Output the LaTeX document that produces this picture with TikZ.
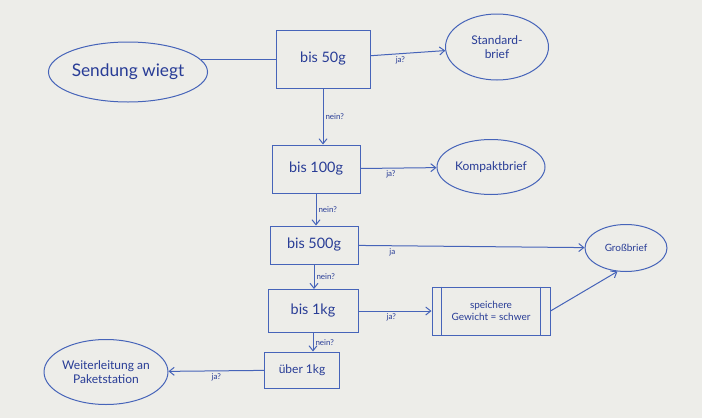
\documentclass[tikz,border=0pt]{standalone}
\usepackage{fontspec}
\setmainfont{Lato}
\usetikzlibrary{shapes.geometric,arrows.meta}
\definecolor{pen}{RGB}{70,100,185}
\definecolor{ink}{RGB}{40,60,150}
\definecolor{board}{RGB}{237,237,233}
\begin{document}
\begin{tikzpicture}
  [x=1pt,y=-1pt,line width=1pt,
   every node/.style={text=ink},
   box/.style={draw=pen, rectangle, inner sep=2pt, align=center},
   oval/.style={draw=pen, ellipse, inner sep=0pt, align=center},
   lbl/.style={font=\footnotesize, text=ink, inner sep=2pt}]
  \fill[board] (0,0) rectangle (702,418);
  \useasboundingbox (0,0) rectangle (702,418);

  % start and decisions
  \node[oval, minimum width=155pt, minimum height=60pt, font=\LARGE] (send) at (128,72) {Sendung wiegt};
  \node[box, minimum width=94pt, minimum height=58pt, font=\Large] (b50) at (323,59) {bis 50g};
  \node[box, minimum width=88pt, minimum height=48pt, font=\Large] (b100) at (316,169) {bis 100g};
  \node[box, minimum width=88pt, minimum height=38pt, font=\Large] (b500) at (314,245) {bis 500g};
  \node[box, minimum width=90pt, minimum height=43pt, font=\Large] (b1k) at (313,311) {bis 1kg};
  \node[box, minimum width=75pt, minimum height=36pt, font=\large] (ue1k) at (302,370) {über 1kg};

  % results
  \node[oval, minimum width=103pt, minimum height=66pt, font=\large] (std) at (497,47) {Standard-\\brief};
  \node[oval, minimum width=108pt, minimum height=55pt, font=\large] (kom) at (491,167) {Kompaktbrief};
  \node[oval, minimum width=82pt, minimum height=47pt] (gross) at (626,248) {Großbrief};
  \node[box, minimum width=118pt, minimum height=48pt] (sp) at (491,311) {speichere\\Gewicht = schwer};
  \node[oval, minimum width=123pt, minimum height=65pt, font=\large] (weiter) at (106,372) {Weiterleitung an\\Paketstation};

  \draw[pen] ([xshift=10pt]sp.north west) -- ([xshift=10pt]sp.south west);
  \draw[pen] ([xshift=-10pt]sp.north east) -- ([xshift=-10pt]sp.south east);

  \draw[pen] (send.10) -- (send.10 -| b50.west);

  \foreach \from/\to/\txt/\p in {b50/std/ja?/0.4, b100/kom/ja?/0.4, b500/gross/ja/0.15, b1k/sp/ja?/0.45, ue1k/weiter/ja?/0.5}
    \draw[pen, -{Straight Barb[length=5pt,width=8pt]}] (\from) -- node[lbl, below, pos=\p]{\txt} (\to);

  \foreach \from/\to in {b50/b100, b100/b500, b500/b1k, b1k/ue1k}
    \draw[pen, -{Straight Barb[length=5pt,width=8pt]}] (\from.south) -- node[lbl, right]{nein?} (\from.south |- \to.north);

  \draw[pen, -{Straight Barb[length=5pt,width=8pt]}] (sp.east) -- (gross.250);
\end{tikzpicture}
\end{document}
